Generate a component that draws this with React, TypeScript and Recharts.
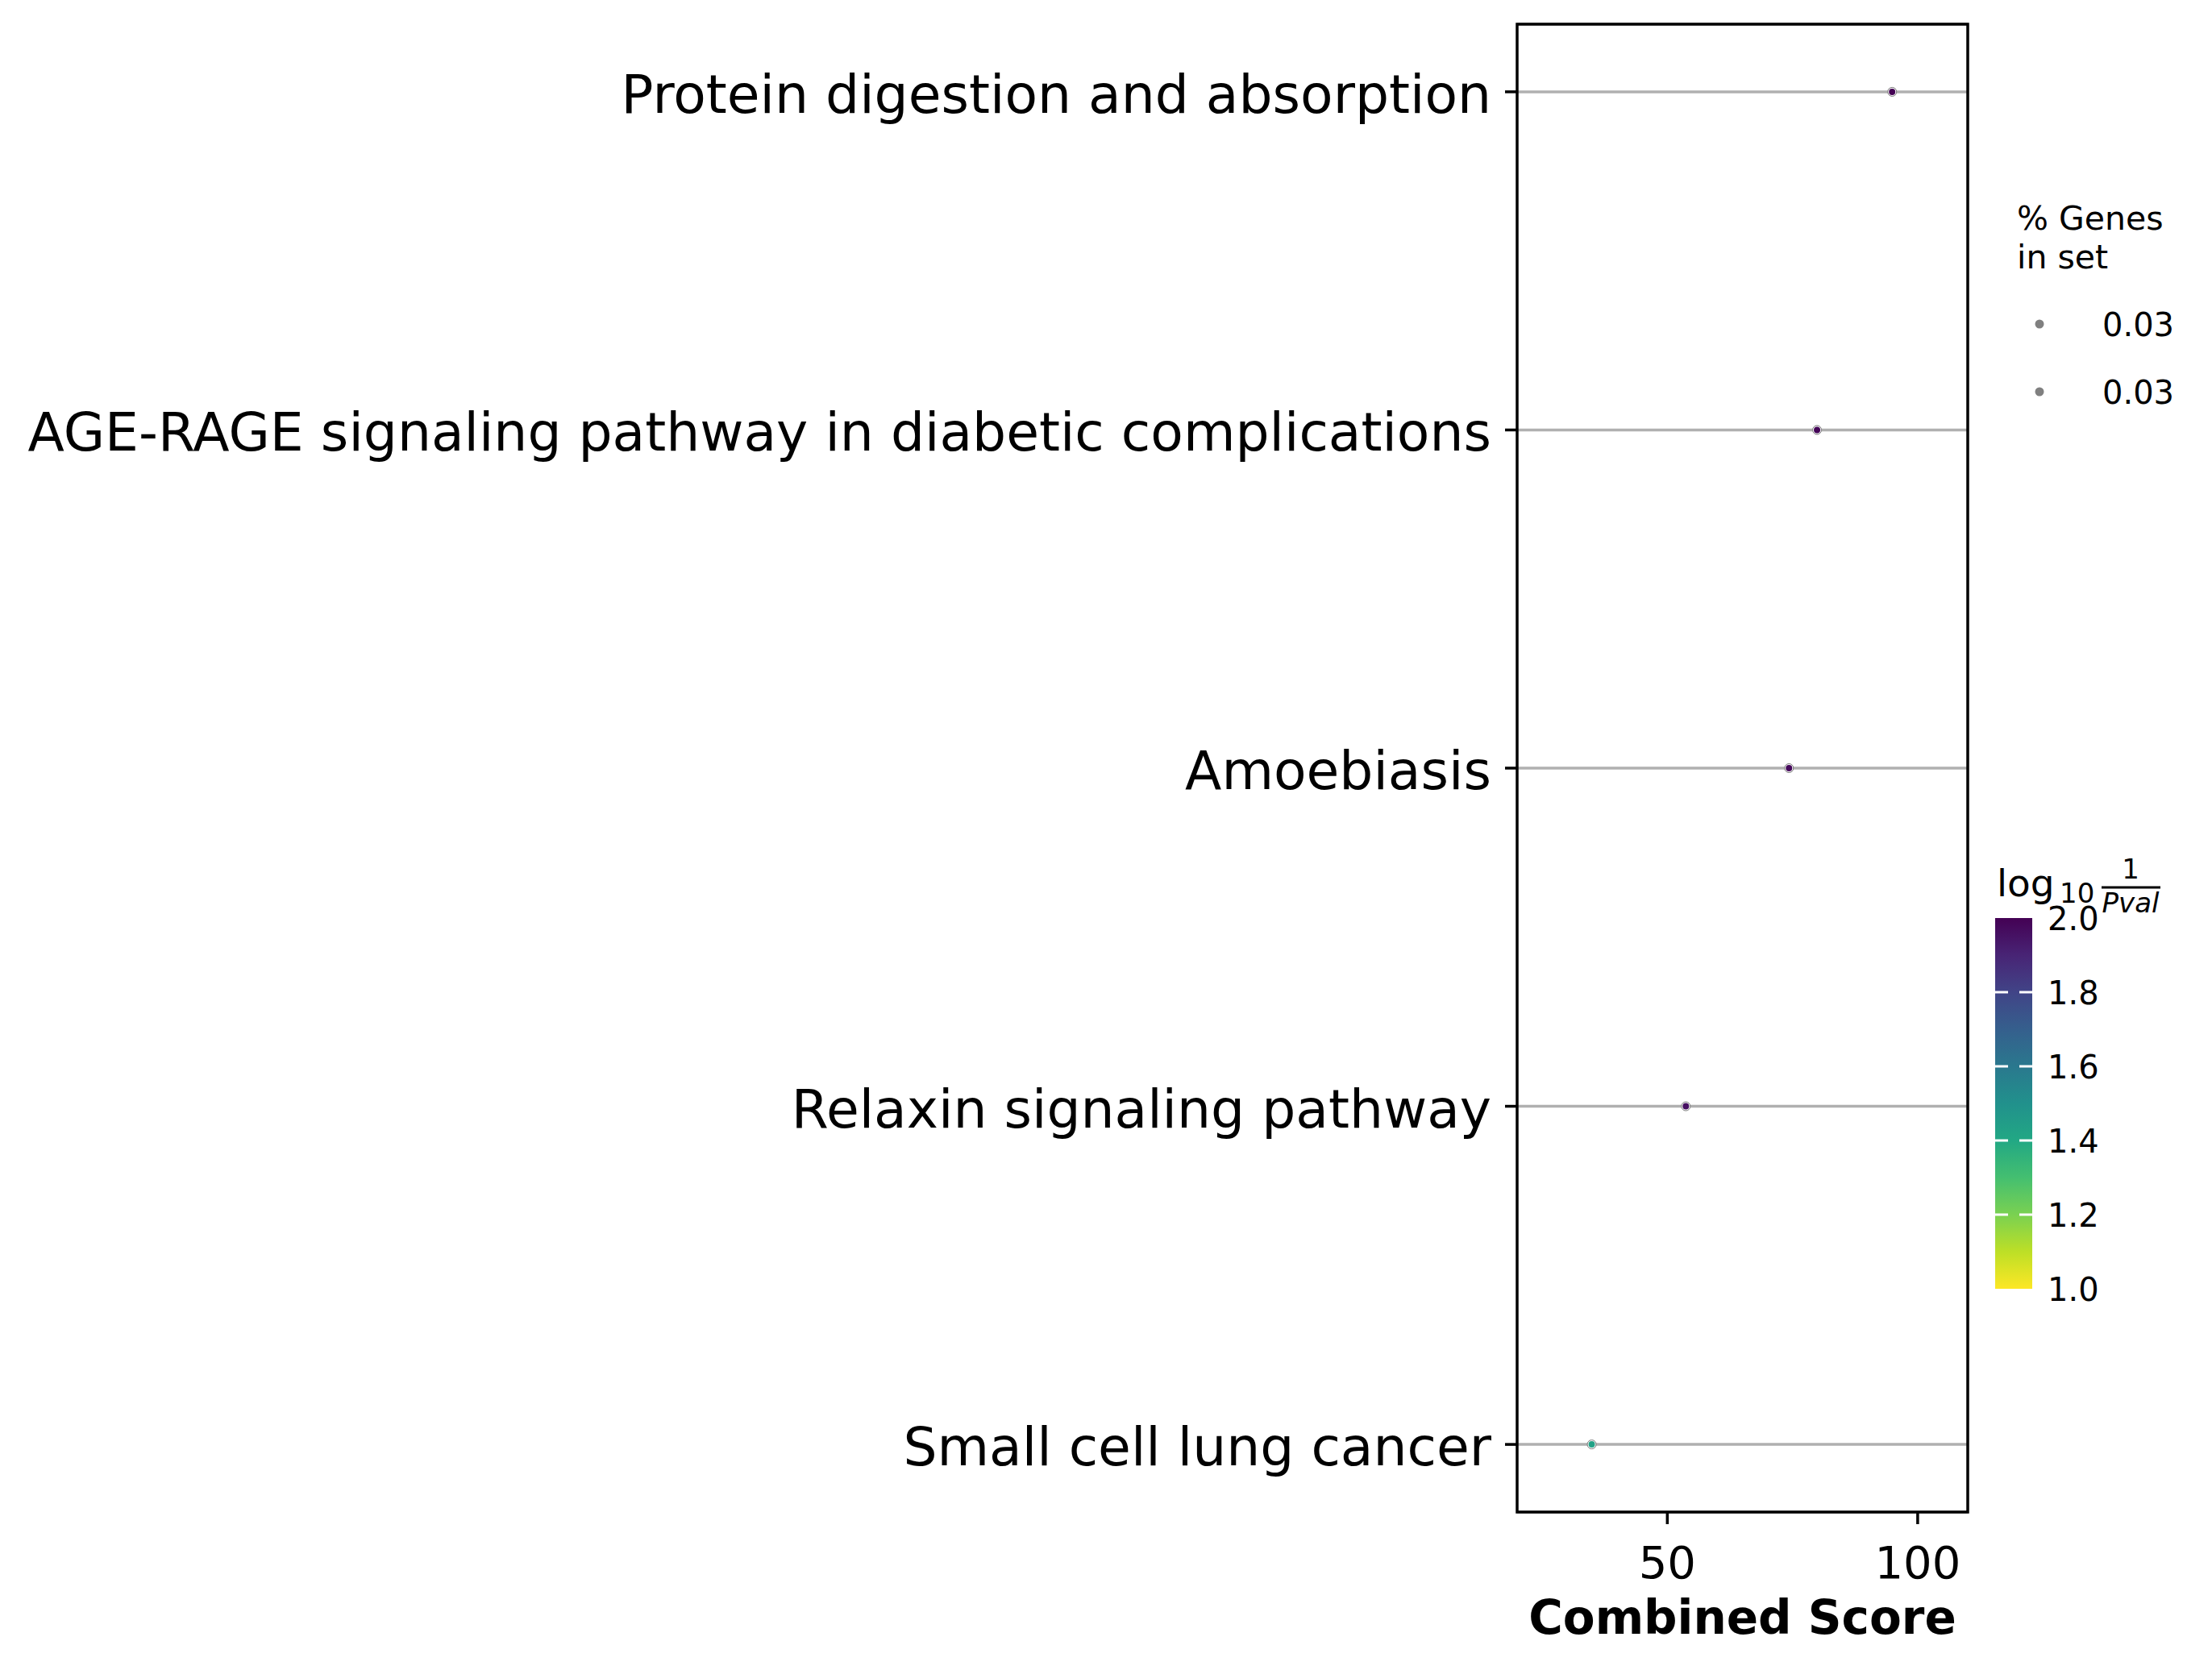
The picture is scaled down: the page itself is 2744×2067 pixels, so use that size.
import React from 'react';
import {
  ScatterChart,
  Scatter,
  XAxis,
  YAxis,
  CartesianGrid,
  ReferenceArea,
  Customized
} from 'recharts';

// pathways, top to bottom
const pathways = [
  'Protein digestion and absorption',
  'AGE-RAGE signaling pathway in diabetic complications',
  'Amoebiasis',
  'Relaxin signaling pathway',
  'Small cell lung cancer'
];
const combinedScore = [94.9, 79.9, 74.3, 53.7, 34.9];
const log10InvPval = [2.0, 1.99, 1.98, 1.96, 1.43];
const genesInSet = [0.03, 0.03, 0.03, 0.03, 0.03];

const xTicks = [50, 100];
const colorbarTicks = [1.0, 1.2, 1.4, 1.6, 1.8, 2.0];
const sizeLegend = ['0.03', '0.03'];

const FONT = 'DejaVu Sans';

const VIRIDIS = [
  '#440154', '#482475', '#414487', '#355f8d', '#2a788e', '#21918c',
  '#22a884', '#44bf70', '#7ad151', '#bddf26', '#fde725'
];

const hexToRgb = (h: string) => [1, 3, 5].map((i) => parseInt(h.slice(i, i + 2), 16));

// reversed viridis: 2.0 -> purple, 1.0 -> yellow
const pvalColor = (v: number) => {
  const t = Math.min(1, Math.max(0, 2 - v)) * (VIRIDIS.length - 1);
  const i = Math.min(VIRIDIS.length - 2, Math.floor(t));
  const f = t - i;
  const a = hexToRgb(VIRIDIS[i]);
  const b = hexToRgb(VIRIDIS[i + 1]);
  const c = a.map((x, k) => Math.round(x + (b[k] - x) * f));
  return `rgb(${c[0]},${c[1]},${c[2]})`;
};

const data = pathways.map((name, i) => ({
  name,
  idx: i,
  score: combinedScore[i],
  pval: log10InvPval[i],
  ratio: genesInSet[i]
}));

const DotShape = (props: any) => {
  const { cx, cy, payload } = props;
  if (cx == null || cy == null) return null;
  return (
    <g>
      <circle cx={cx} cy={cy} r={5.5} fill="#fff" stroke="#777" strokeWidth={1} />
      <circle cx={cx} cy={cy} r={4} fill={pvalColor(payload.pval)} />
    </g>
  );
};

const PathwayTick = (props: any) => {
  const { x, y, payload } = props;
  return (
    <text
      x={x}
      y={y}
      dy={26}
      textAnchor="end"
      fontSize={66.3}
      fontFamily={FONT}
      fill="#000"
    >
      {pathways[payload.value]}
    </text>
  );
};

// size legend + colorbar on the right
const SideLegends = () => {
  const cbX = 2475;
  const cbW = 46;
  const cbTop = 1139;
  const cbBottom = 1599;
  const cbY = (v: number) => cbBottom - ((v - 1) / 1) * (cbBottom - cbTop);
  return (
    <g fontFamily={FONT}>
      <text x={2502} y={285} fontSize={41} fill="#000">% Genes</text>
      <text x={2502} y={333} fontSize={41} fill="#000">in set</text>
      {sizeLegend.map((lab, i) => (
        <g key={i}>
          <circle cx={2530} cy={402 + i * 84} r={5.5} fill="#808080" />
          <text x={2608} y={417 + i * 84} fontSize={40} fill="#000">{lab}</text>
        </g>
      ))}

      <defs>
        <linearGradient id="viridisBar" x1="0" y1="0" x2="0" y2="1">
          {VIRIDIS.map((c, i) => (
            <stop key={i} offset={`${(i / (VIRIDIS.length - 1)) * 100}%`} stopColor={c} />
          ))}
        </linearGradient>
      </defs>
      <text x={2477} y={1112} fontSize={47} fill="#000">log</text>
      <text x={2555} y={1120} fontSize={34} fill="#000">10</text>
      <text x={2643} y={1090} fontSize={34} fill="#000" textAnchor="middle">1</text>
      <line x1={2607} x2={2680} y1={1101} y2={1101} stroke="#000" strokeWidth={3} />
      <text x={2643} y={1132} fontSize={34} fill="#000" textAnchor="middle" fontStyle="italic">Pval</text>

      <rect x={cbX} y={cbTop} width={cbW} height={cbBottom - cbTop} fill="url(#viridisBar)" />
      {colorbarTicks.map((v) => (
        <g key={v}>
          {v > 1.0 && v < 2.0 && (
            <>
              <line x1={cbX} x2={cbX + 16} y1={cbY(v)} y2={cbY(v)} stroke="#fff" strokeWidth={3} />
              <line x1={cbX + cbW - 16} x2={cbX + cbW} y1={cbY(v)} y2={cbY(v)} stroke="#fff" strokeWidth={3} />
            </>
          )}
          <text x={2540} y={cbY(v) + 15} fontSize={40} fill="#000">{v.toFixed(1)}</text>
        </g>
      ))}
    </g>
  );
};

export default function App() {
  return (
    <div style={{ position: 'absolute', left: 0, top: 0, width: 2744, height: 2067, background: '#fff' }}>
      <ScatterChart
        width={2744}
        height={2067}
        margin={{ top: 30, right: 303, bottom: 0, left: 0 }}
      >
        <CartesianGrid horizontal vertical={false} stroke="#b0b0b0" strokeWidth={3.5} />
        <XAxis
          type="number"
          dataKey="score"
          domain={[20, 110]}
          ticks={xTicks}
          height={191}
          axisLine={false}
          tickSize={15}
          tickMargin={27}
          tickLine={{ stroke: '#000', strokeWidth: 3.5 }}
          tick={{ fontSize: 56, fill: '#000', fontFamily: FONT }}
          label={{
            value: 'Combined Score',
            position: 'insideBottom',
            offset: 40,
            fontSize: 58,
            fontWeight: 'bold',
            fill: '#000',
            fontFamily: FONT
          }}
        />
        <YAxis
          type="number"
          dataKey="idx"
          domain={[-0.2, 4.2]}
          ticks={[0, 1, 2, 3, 4]}
          reversed
          width={1882}
          axisLine={false}
          tickSize={15}
          tickMargin={17}
          tickLine={{ stroke: '#000', strokeWidth: 3.5 }}
          tick={<PathwayTick />}
        />
        <ReferenceArea
          x1={20}
          x2={110}
          y1={-0.2}
          y2={4.2}
          fill="none"
          stroke="#000"
          strokeWidth={3.5}
          fillOpacity={0}
        />
        <Scatter data={data} shape={<DotShape />} isAnimationActive={false} />
        <Customized component={<SideLegends />} />
      </ScatterChart>
    </div>
  );
}
